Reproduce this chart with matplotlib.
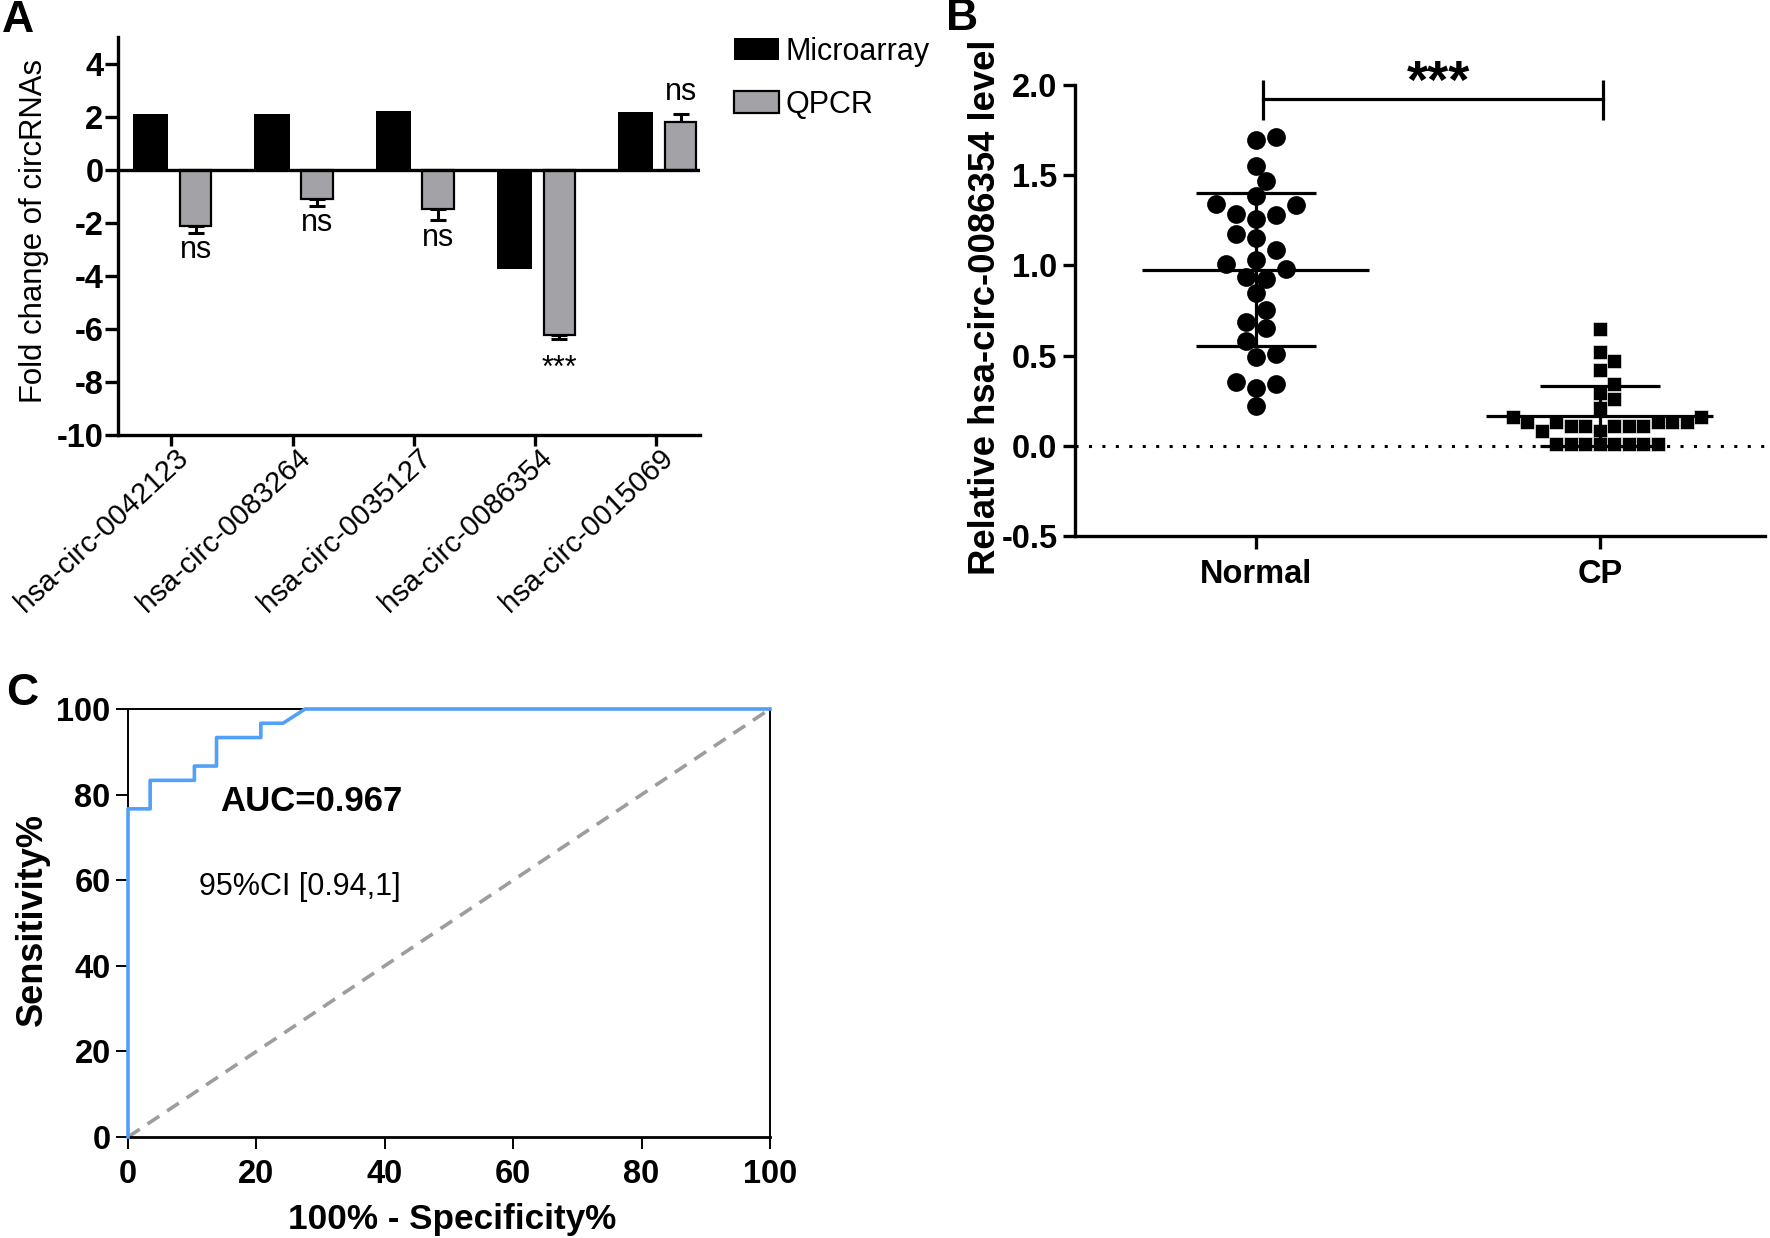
import numpy as np
import matplotlib.pyplot as plt
from matplotlib.transforms import ScaledTranslation, blended_transform_factory

plt.rcParams['font.family'] = ['Liberation Sans', 'DejaVu Sans']
plt.rcParams['axes.unicode_minus'] = False

# ---- panel A data
circ_ids = ['hsa-circ-0042123', 'hsa-circ-0083264', 'hsa-circ-0035127',
            'hsa-circ-0086354', 'hsa-circ-0015069']
microarray_fc = [2.08, 2.10, 2.20, -3.75, 2.16]
qpcr_fc = [-2.14, -1.11, -1.47, -6.23, 1.80]
qpcr_sem = [0.25, 0.25, 0.44, 0.15, 0.31]
qpcr_sig = ['ns', 'ns', 'ns', '***', 'ns']

# ---- panel B data
groups = ['Normal', 'CP']
normal_level = [1.712, 1.694, 1.553, 1.467, 1.384, 1.343, 1.334, 1.286, 1.255,
                1.279, 1.153, 1.175, 1.085, 1.028, 1.009, 0.982, 0.935, 0.923,
                0.845, 0.751, 0.686, 0.651, 0.581, 0.493, 0.507, 0.351, 0.319,
                0.341, 0.218]
cp_level = [0.65, 0.52, 0.47, 0.42, 0.345, 0.295, 0.262, 0.212,
            0.157, 0.157, 0.13, 0.13, 0.13, 0.13, 0.13, 0.11, 0.11, 0.11,
            0.11, 0.11, 0.083, 0.083,
            0.012, 0.01, 0.01, 0.008, 0.01, 0.01, 0.01, 0.012]

# ---- panel C data
roc_fpr = [0, 0, 3.45, 3.45, 10.34, 10.34, 13.79, 13.79, 20.69, 20.69, 24.14, 27.59, 100]
roc_tpr = [0, 76.67, 76.67, 83.33, 83.33, 86.67, 86.67, 93.33, 93.33, 96.67, 96.67, 100, 100]
auc_text = 'AUC=0.967'
ci_text = '95%CI [0.94,1]'

W, H = 1770, 1238
fig = plt.figure(figsize=(W / 100, H / 100), dpi=100)


def px_axes(l, t, r, b):
    return fig.add_axes([l / W, 1 - b / H, (r - l) / W, (b - t) / H])


def bold_ticks(ax):
    for lbl in ax.get_xticklabels() + ax.get_yticklabels():
        lbl.set_fontweight('bold')


def swarm(vals, size, step, ypx, square):
    # simple beeswarm: put each point in the nearest free column
    vals = np.asarray(vals, dtype=float)
    ys = vals * ypx
    off = np.zeros(len(vals))
    placed = []
    for i in np.argsort(vals):
        for k in range(80):
            c = step * ((k + 1) // 2) * (1 if k % 2 == 1 else -1)
            hit = False
            for px, py in placed:
                dx, dy = abs(c - px), abs(ys[i] - py)
                if square:
                    if dx < size and dy < size:
                        hit = True
                        break
                elif dx * dx + dy * dy < size * size:
                    hit = True
                    break
            if not hit:
                break
        placed.append((c, ys[i]))
        off[i] = c
    return off


grey = '#a3a3a7'

# ================= A
axA = px_axes(118, 37, 700, 435)
x = np.arange(len(circ_ids))
b1 = axA.bar(x - 0.17, microarray_fc, width=0.29, color='black', zorder=2)
b2 = axA.bar(x + 0.2, qpcr_fc, width=0.26, color=grey, edgecolor='black',
             linewidth=1.6, zorder=2)
lo = [s if v < 0 else 0 for v, s in zip(qpcr_fc, qpcr_sem)]
hi = [s if v > 0 else 0 for v, s in zip(qpcr_fc, qpcr_sem)]
axA.errorbar(x + 0.2, qpcr_fc, yerr=[lo, hi], fmt='none', ecolor='black',
             elinewidth=2.2, capsize=5.5, capthick=2.2, zorder=1)
axA.axhline(0, color='black', lw=2.4, zorder=3)
for xi, v, s, t in zip(x, qpcr_fc, qpcr_sem, qpcr_sig):
    if t == '***':
        axA.text(xi + 0.2, v - s - 0.55, t, ha='center', va='top', fontsize=22)
    elif v < 0:
        axA.text(xi + 0.2, v - s - 0.95, t, ha='center', va='baseline', fontsize=22)
    else:
        axA.text(xi + 0.2, v + s + 0.5, t, ha='center', va='baseline', fontsize=22)
axA.set_xlim(-0.44, 4.36)
axA.set_ylim(-10, 5)
axA.set_yticks(range(-10, 5, 2))
axA.set_xticks(x)
axA.set_xticklabels([])
# rotated category names, anchored just right of / below each tick
lab_tr = blended_transform_factory(axA.transData, axA.transAxes) + \
    ScaledTranslation(0.13, -0.19, fig.dpi_scale_trans)
for xi, name in zip(x, circ_ids):
    axA.text(xi, 0, name, transform=lab_tr, rotation=43, ha='right', va='center',
             rotation_mode='anchor', fontsize=21, clip_on=False)
for lbl in axA.get_yticklabels():
    lbl.set_fontweight('bold')
axA.tick_params(axis='y', labelsize=23.5, length=9.5, width=2.4, pad=1)
axA.tick_params(axis='x', length=8, width=2.4, pad=6)
for s in ['top', 'right']:
    axA.spines[s].set_visible(False)
for s in ['left', 'bottom']:
    axA.spines[s].set_linewidth(2.4)
axA.legend(handles=[b1, b2], labels=['Microarray', 'QPCR'], loc='upper left',
           bbox_to_anchor=(734 / W, 1 - 37 / H), bbox_transform=fig.transFigure,
           frameon=False, fontsize=22, handlelength=1.47, handleheight=0.72,
           handletextpad=0.2, labelspacing=0.75, borderpad=0, borderaxespad=0)
fig.text(34 / W, 1 - 231 / H, 'Fold change of circRNAs', rotation=90,
         ha='center', va='center', fontsize=22.4)
fig.text(18 / W, 1 - 20 / H, 'A', ha='center', va='center', fontsize=32, fontweight='bold')

# ================= B
axB = px_axes(1075, 85, 1765, 536)
axB.set_xlim(-0.526, 1.48)
axB.set_ylim(-0.5, 2.0)
xpx = 690 / (1.48 + 0.526)
ypx = 451 / 2.5
off_n = swarm(normal_level, 17, 10, ypx, False) / xpx
off_c = swarm(cp_level, 13.5, 14.5, ypx, True) / xpx
axB.scatter(0 + off_n, normal_level, s=13.5 ** 2, marker='o', color='black',
            linewidths=0, zorder=2, clip_on=False)
axB.scatter(1 + off_c, cp_level, s=9.8 ** 2, marker='s', color='black',
            edgecolors='white', linewidths=0.4, zorder=2, clip_on=False)
for gx, vals in zip([0, 1], [normal_level, cp_level]):
    m = np.mean(vals)
    sd = np.std(vals, ddof=1)
    axB.hlines(m, gx - 0.33, gx + 0.33, color='black', lw=2.3, zorder=3)
    axB.hlines([m - sd, m + sd], gx - 0.175, gx + 0.175, color='black', lw=2.3, zorder=3)
    axB.vlines(gx, m - sd, m + sd, color='black', lw=2.3, zorder=3)
axB.axhline(0, color='black', lw=2.2, ls=(0, (1, 3.4)), zorder=1)
axB.plot([0.02, 1.01], [1.92, 1.92], color='black', lw=2.3, clip_on=False)
axB.vlines([0.02, 1.01], 1.806, 2.03, color='black', lw=2.3, clip_on=False)
axB.text(0.53, 1.87, '***', ha='center', va='bottom', fontsize=39, fontweight='bold')
axB.set_xticks([0, 1])
axB.set_xticklabels(groups)
axB.set_yticks([-0.5, 0, 0.5, 1.0, 1.5, 2.0])
axB.set_yticklabels(['-0.5', '0.0', '0.5', '1.0', '1.5', '2.0'])
bold_ticks(axB)
axB.tick_params(axis='both', labelsize=23.5, width=2.4)
axB.tick_params(axis='y', length=8.6, pad=4)
axB.tick_params(axis='x', length=9.5, pad=7)
for s in ['top', 'right']:
    axB.spines[s].set_visible(False)
for s in ['left', 'bottom']:
    axB.spines[s].set_linewidth(2.4)
fig.text(985 / W, 1 - 307 / H, 'Relative hsa-circ-0086354 level', rotation=90,
         ha='center', va='center', fontsize=26.3, fontweight='bold')
fig.text(962 / W, 1 - 19 / H, 'B', ha='center', va='center', fontsize=32, fontweight='bold')

# ================= C
axC = px_axes(128, 709, 770, 1137)
axC.plot([0, 100], [0, 100], color='#9d9d9d', lw=2.6, ls=(0, (3.9, 2.6)), zorder=2)
axC.plot(roc_fpr, roc_tpr, color='#52a0f8', lw=2.6, zorder=3, clip_on=False)
axC.set_xlim(0, 100)
axC.set_ylim(0, 100)
axC.set_xticks(range(0, 101, 20))
axC.set_yticks(range(0, 101, 20))
bold_ticks(axC)
axC.tick_params(axis='both', labelsize=23.5, width=1.4, length=8.5)
axC.tick_params(axis='y', pad=4)
axC.tick_params(axis='x', pad=7)
for s in axC.spines.values():
    s.set_linewidth(1.4)
axC.spines['bottom'].set_linewidth(2.0)
axC.text(14.3, 78.5, auc_text, ha='left', va='center', fontsize=25, fontweight='bold')
axC.text(11.0, 58.4, ci_text, ha='left', va='center', fontsize=22)
fig.text(32 / W, 1 - 920 / H, 'Sensitivity%', rotation=90, ha='center', va='center',
         fontsize=26, fontweight='bold')
fig.text(452 / W, 1 - 1219 / H, '100% - Specificity%', ha='center', va='center',
         fontsize=25.3, fontweight='bold')
fig.text(22 / W, 1 - 694 / H, 'C', ha='center', va='center', fontsize=32, fontweight='bold')

fig.savefig('out.png', dpi=100)
